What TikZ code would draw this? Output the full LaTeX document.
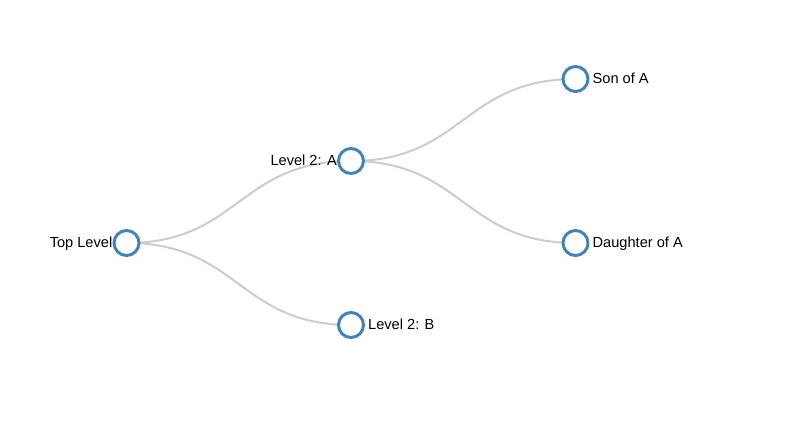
\documentclass[tikz,border=0pt]{standalone}
\usepackage{fontspec}
\setmainfont{Liberation Sans}
\usetikzlibrary{positioning, backgrounds}
\definecolor{steelblue}{HTML}{4682B4}
\definecolor{linkgray}{HTML}{CCCCCC}

\begin{document}
\begin{tikzpicture}[
    node distance=82pt and 224.5pt,
    on grid,
    treenode/.style={circle, draw=steelblue, fill=white, line width=3pt, minimum size=25pt, inner sep=0pt},
    leftlabel/.style={anchor=base east, inner sep=0pt, font=\fontsize{14.6pt}{17pt}\selectfont},
    rightlabel/.style={anchor=base west, inner sep=0pt, font=\fontsize{14.6pt}{17pt}\selectfont},
    link/.style={draw=linkgray, line width=2pt},
    ]
    \useasboundingbox (0,0) rectangle (792pt,-424pt);

    \node[treenode]    (top)    at (126.5pt,-243pt)        {};
    \node[treenode]    (la)     [above right=of top]       {};
    \node[treenode]    (lb)     [below right=of top]       {};
    \node[treenode]    (son)    [above right=of la]        {};
    \node[treenode]    (dau)    [below right=of la]        {};

    \node[leftlabel]   (toptxt) at ([xshift=-14pt, yshift=-4.9pt]top.center) {Top Level};
    \node[leftlabel]   (latxt)  at ([xshift=-14pt, yshift=-4.9pt]la.center)  {Level 2: A};
    \node[rightlabel]  (lbtxt)  at ([xshift=17pt, yshift=-4.9pt]lb.center)   {Level 2: B};
    \node[rightlabel]  (sontxt) at ([xshift=17pt, yshift=-4.9pt]son.center)  {Son of A};
    \node[rightlabel]  (dautxt) at ([xshift=17pt, yshift=-4.9pt]dau.center)  {Daughter of A};

    \begin{scope}[on background layer]
    \draw[link] (top.center) .. controls +(112pt,0) and +(-112pt,0) .. (la.center);
    \draw[link] (top.center) .. controls +(112pt,0) and +(-112pt,0) .. (lb.center);
    \draw[link] (la.center) .. controls +(112pt,0) and +(-112pt,0) .. (son.center);
    \draw[link] (la.center) .. controls +(112pt,0) and +(-112pt,0) .. (dau.center);
    \end{scope}

\end{tikzpicture}
\end{document}
